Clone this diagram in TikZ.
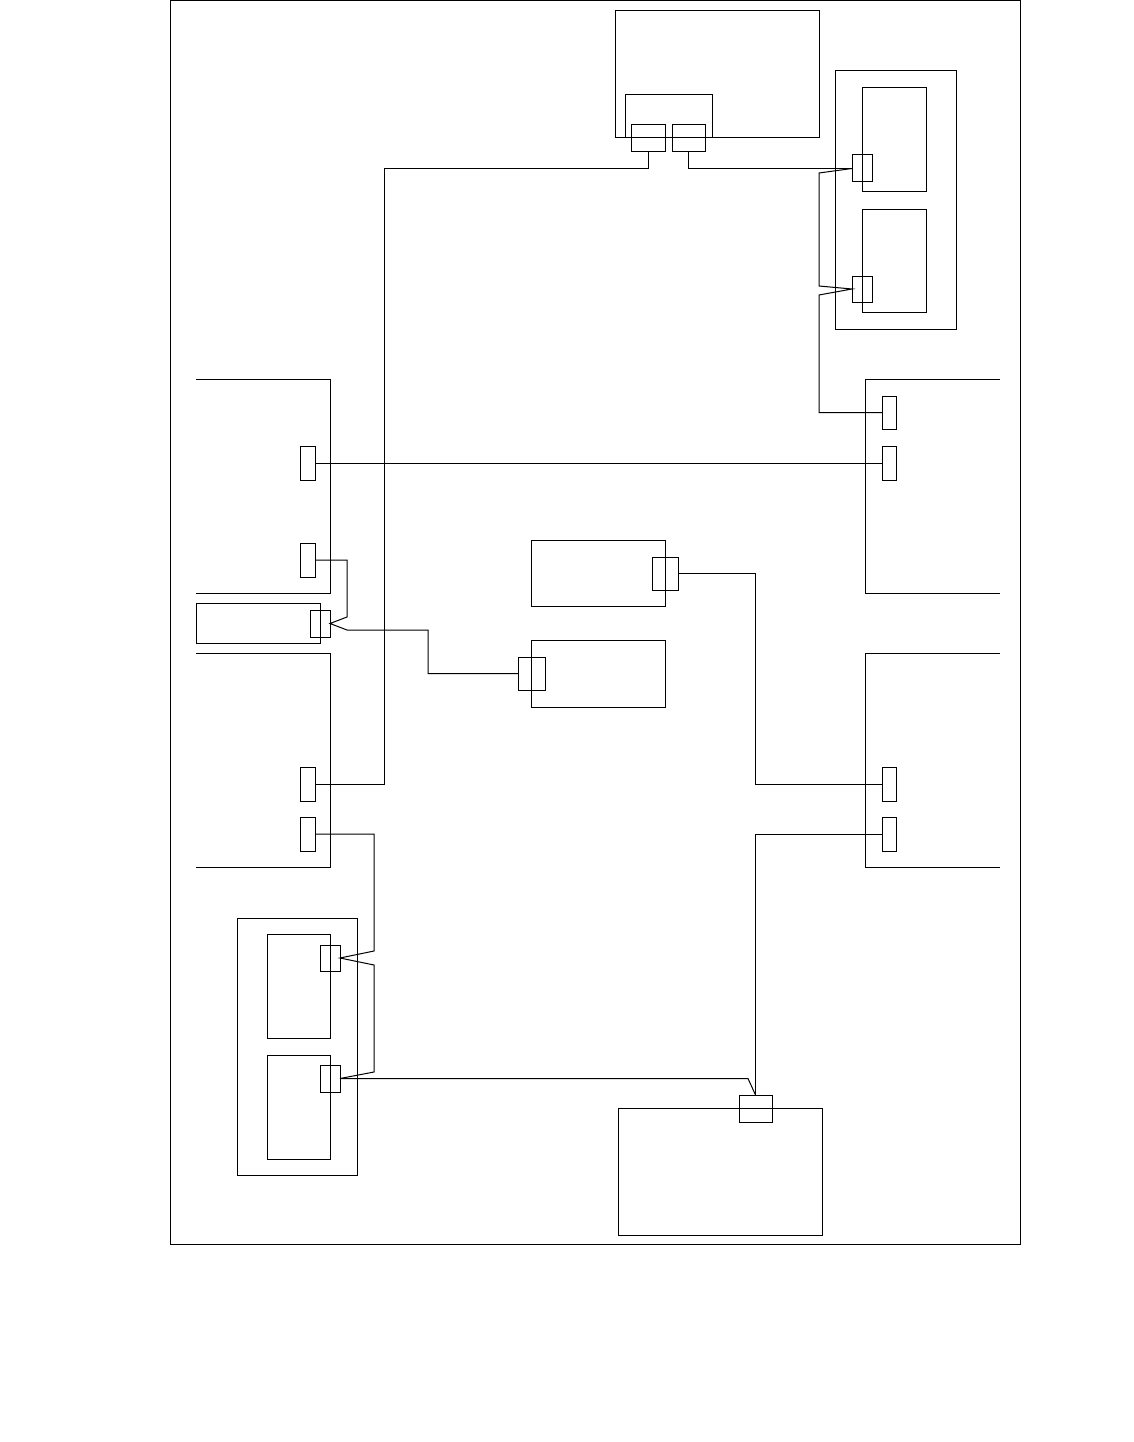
\documentclass[tikz,border=0pt]{standalone}
\usepackage{tikz}
\usetikzlibrary{calc}

\begin{document}
\begin{tikzpicture}[
  x=1pt, y=-1pt, line width=1pt,
  box/.style={draw, rectangle, inner sep=0pt, outer sep=0pt},
  unit/.style={box, minimum width=#1},
  port/.style={box, minimum width=15pt, minimum height=34pt},
  jack/.style={box, minimum width=20pt, minimum height=27pt},
  wire/.style={draw, line width=1pt},
]
\useasboundingbox (0,0) rectangle (1134,1442);
\draw (170.5,0.5) rectangle (1020,1244);

% top unit with its two sockets
\node[box, minimum width=204pt, minimum height=127pt] (rtr) at (717,74.5) {};
\node[box, minimum width=87pt, minimum height=43pt] (rtrin) at (668.5,116.5) {};
\node[box, minimum width=34pt, minimum height=27pt] (rpa) at (648,138.5) {};
\node[box, minimum width=33pt, minimum height=27pt] (rpb) at (688.5,138.5) {};

% right enclosure
\node[box, minimum width=121pt, minimum height=258pt] (renc) at (895.5,200) {};
\node[box, minimum width=64pt, minimum height=104pt] (rup) at (894,140) {};
\node[box, minimum width=64pt, minimum height=103pt] (rlo) at (894,260.5) {};
\node[jack] (rpu) at (862,168.5) {};
\node[jack, minimum height=26pt] (rpl) at (862,289) {};

% open modules, right side
\draw (1000,379) -| (865,593) -- (1000,593);
\draw (1000,653) -| (865,867) -- (1000,867);
\node[port, minimum width=14pt, minimum height=33pt] (rt1) at (889,412.5) {};
\node[port, minimum width=14pt] (rt2) at (889,463) {};
\node[port, minimum width=14pt] (rb1) at (889,784) {};
\node[port, minimum width=14pt] (rb2) at (889,834) {};

% open modules, left side
\draw (196,379) -| (330,593) -- (196,593);
\draw (196,653) -| (330,867) -- (196,867);
\node[port] (lt1) at (307.5,463) {};
\node[port] (lt2) at (307.5,560) {};
\node[port] (lb1) at (307.5,784) {};
\node[port] (lb2) at (307.5,834) {};
\node[box, minimum width=124pt, minimum height=40pt] (sbox) at (258,623) {};
\node[jack] (sp) at (320,623.5) {};

% middle units
\node[box, minimum width=134pt, minimum height=66pt] (m1) at (598,573) {};
\node[box, minimum width=26pt, minimum height=33pt] (m1p) at (665,573.5) {};
\node[box, minimum width=134pt, minimum height=67pt] (m2) at (598,673.5) {};
\node[box, minimum width=27pt, minimum height=33pt] (m2p) at (531.5,673.5) {};

% left enclosure
\node[box, minimum width=120pt, minimum height=257pt] (lenc) at (297,1046.5) {};
\node[box, minimum width=63pt, minimum height=104pt] (lup) at (298.5,986) {};
\node[box, minimum width=63pt, minimum height=104pt] (llo) at (298.5,1107) {};
\node[jack, minimum height=26pt] (lpu) at (330,958) {};
\node[jack] (lpl) at (330,1078.5) {};

% bottom unit
\node[box, minimum width=204pt, minimum height=127pt] (bot) at (720,1171.5) {};
\node[box, minimum width=33pt, minimum height=27pt] (bp) at (755.5,1108.5) {};

% wiring
\draw[wire] (rpa.south) |- (384,168.5) |- (lb1.east);
\draw[wire] (rpb.south) |- (rpu.west);
\draw[wire] (rpu.west) -- (819,173) -- (819,286) -- (rpl.west) -- (819,295) |- (rt1.west);
\draw[wire] (lt1.east) -- (rt2.west);
\draw[wire] (lt2.east) -| (347,617) -- (sp.east) -- (347,630) -| (428,673.5) -- (m2p.west);
\draw[wire] (m1p.east) -| (755.5,784) -- (rb1.west);
\draw[wire] (rb2.west) -| (bp.north);
\draw[wire] (lb2.east) -| (374,951) -- (lpu.east) -- (374,965) -- (374,1072) -- (lpl.east)
  -- (748,1078.5) -- (bp.north);
\end{tikzpicture}
\end{document}
